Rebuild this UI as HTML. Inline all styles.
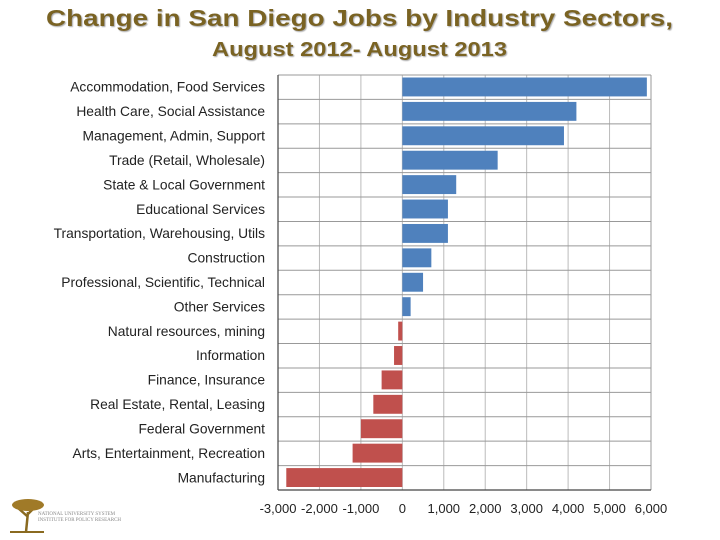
<!DOCTYPE html>
<html><head><meta charset="utf-8"><style>
body{margin:0;width:720px;height:540px;background:#fff;overflow:hidden;font-family:"Liberation Sans",sans-serif;}
</style></head><body>
<svg width="720" height="64" style="position:absolute;left:0;top:0">
<defs><filter id="sh"><feDropShadow dx="1" dy="1" stdDeviation="0.6" flood-color="#aaa"/></filter></defs>
<text x="46" y="26" font-size="23" font-weight="bold" fill="#7a6424" textLength="627" lengthAdjust="spacingAndGlyphs" filter="url(#sh)">Change in San Diego Jobs by Industry Sectors,</text>
<text x="212" y="56" font-size="20" font-weight="bold" fill="#7a6424" textLength="295" lengthAdjust="spacingAndGlyphs" filter="url(#sh)">August 2012- August 2013</text>
</svg>
<svg id="c" width="720" height="540" style="position:absolute;left:0;top:0"></svg>
<div style="position:absolute;left:6px;top:494px;">
<svg width="40" height="40"><path d="M20 38 L22 18 M22 20 L30 12 M21 22 L12 14" stroke="#8a6a20" stroke-width="2.5" fill="none"/><ellipse cx="22" cy="11" rx="16" ry="6" fill="#a07a28"/><path d="M4 38 H38" stroke="#8a6a20" stroke-width="2"/></svg>
<div style="position:absolute;left:32px;top:18px;font-size:5px;color:#888;line-height:6px;white-space:nowrap;font-family:'Liberation Serif',serif;">NATIONAL UNIVERSITY SYSTEM<br>INSTITUTE FOR POLICY RESEARCH</div>
</div>
<script>
const categories=["Accommodation, Food Services","Health Care, Social Assistance","Management, Admin, Support","Trade (Retail, Wholesale)","State & Local Government","Educational Services","Transportation, Warehousing, Utils","Construction","Professional, Scientific, Technical","Other Services","Natural resources, mining","Information","Finance, Insurance","Real Estate, Rental, Leasing","Federal Government","Arts, Entertainment, Recreation","Manufacturing"];
const values=[5900,4200,3900,2300,1300,1100,1100,700,500,200,-100,-200,-500,-700,-1000,-1200,-2800];
const ticks=[-3000,-2000,-1000,0,1000,2000,3000,4000,5000,6000];
const tickLabels=["-3,000","-2,000","-1,000","0","1,000","2,000","3,000","4,000","5,000","6,000"];
const svg=document.getElementById('c');const NS="http://www.w3.org/2000/svg";
const L=278,R=651,T=75,B=490;
const x=v=>L+(v+3000)/9000*(R-L);
const rowH=(B-T)/categories.length;
const y=i=>T+i*rowH;
function mk(t,a,txt){const e=document.createElementNS(NS,t);for(const k in a)e.setAttribute(k,a[k]);if(txt!==undefined)e.textContent=txt;svg.appendChild(e);return e;}
ticks.forEach((t,i)=>{const g=mk('line',{x1:x(t),x2:x(t),y1:T,y2:B,stroke:'#bbb','stroke-width':1});


const lb=mk('text',{x:x(t),y:513,'text-anchor':'middle','font-size':13,fill:'#222'},tickLabels[i]);

});
categories.forEach((c,i)=>{if(i>0){const h=mk('line',{x1:L,x2:R,y1:y(i),y2:y(i),stroke:'#999','stroke-width':1});

}});
mk('line',{x1:L,x2:R,y1:T,y2:T,stroke:'#999'});
mk('line',{x1:R,x2:R,y1:T,y2:B,stroke:'#999'});
categories.forEach((c,i)=>{const v=values[i];const x0=Math.min(x(0),x(v)),w=Math.abs(x(v)-x(0));
const r=mk('rect',{x:x0,y:y(i)+2.5,width:w,height:rowH-5.5,fill:v>=0?'#4f81bd':'#c0504d'});


const t=mk('text',{x:265,y:y(i)+rowH/2+4.5,'text-anchor':'end','font-size':13.8,fill:'#222'},c);

});
mk('line',{x1:L,x2:L,y1:T,y2:B,stroke:'#444','stroke-width':1.2});
mk('line',{x1:L,x2:R,y1:B,y2:B,stroke:'#444','stroke-width':1.2});
</script>
</body></html>
